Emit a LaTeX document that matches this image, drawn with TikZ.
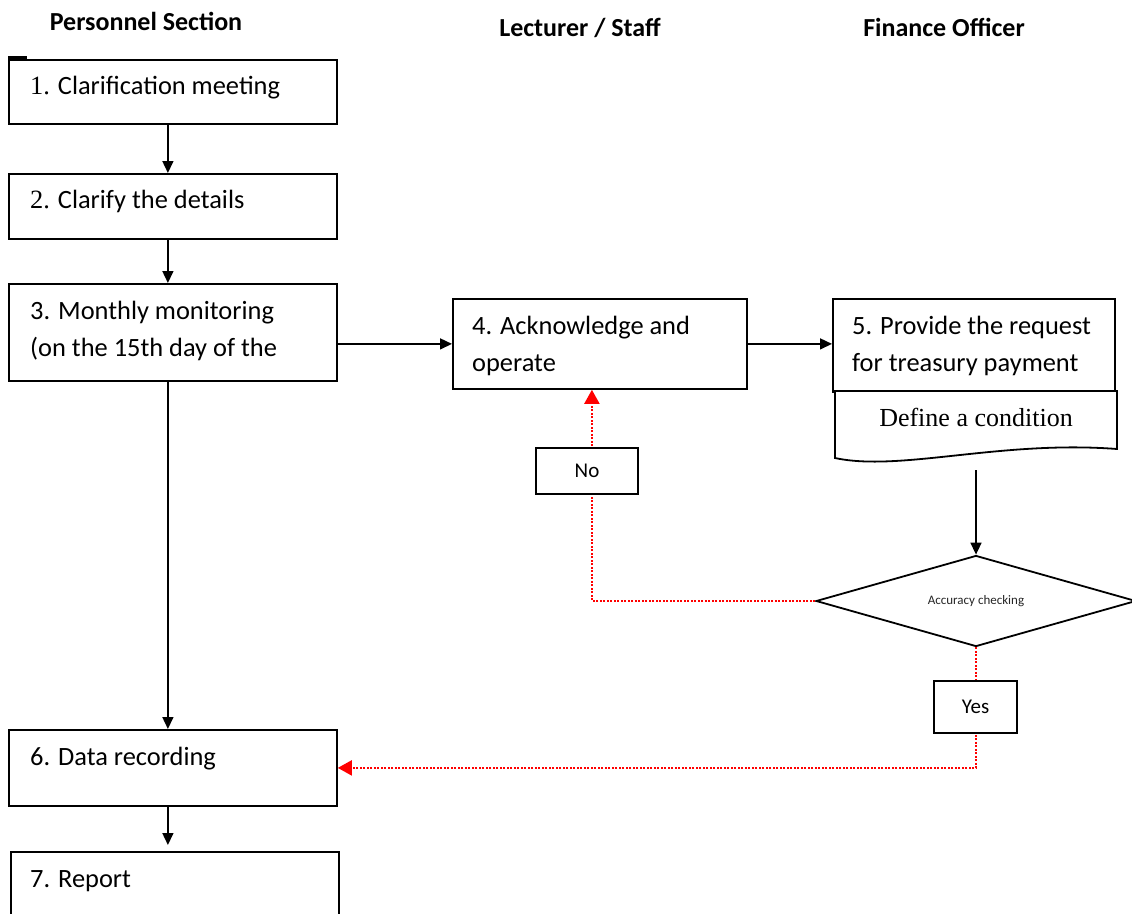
\documentclass[tikz,border=0pt]{standalone}
\usepackage{fontspec}
\setmainfont{Carlito}
\newfontfamily\serifnum{Liberation Serif}
\usetikzlibrary{shapes.geometric,arrows.meta,calc}
\begin{document}
\begin{tikzpicture}[x=1pt,y=-1pt,
  box/.style={draw, line width=1.8pt, fill=white, inner sep=0pt, anchor=north west},
  txt/.style={font=\fontsize{26.4}{37}\selectfont, anchor=base west, align=left, inner sep=0pt},
  hdr/.style={font=\fontsize{26}{30}\selectfont\bfseries, inner sep=0pt, anchor=base},
  arr/.style={line width=1.5pt, -{Triangle[length=12pt,width=11pt]}},
  rarr/.style={red, line width=2pt, dash pattern=on 2pt off 1.5pt, -{Triangle[length=14pt,width=15pt]}},
  tag/.style={draw, line width=1.8pt, fill=white, inner sep=0pt, font=\fontsize{21}{24}\selectfont},
]
\path[use as bounding box] (0,0) rectangle (1132,913);
\clip (0,0) rectangle (1132,913);

% headers
\node[hdr] (h1) at (146,30) {Personnel Section};
\node[hdr] (h2) at (580,36) {Lecturer / Staff};
\node[hdr] (h3) at (944,36) {Finance Officer};

% boxes
\node[box, minimum width=328pt, minimum height=64pt] (b1) at (8,59) {};
\node[box, minimum width=328pt, minimum height=65pt] (b2) at (8,173) {};
\node[box, minimum width=328pt, minimum height=97pt] (b3) at (8,283) {};
\node[box, minimum width=294pt, minimum height=90pt] (b4) at (452,298) {};
\node[box, minimum width=282pt, minimum height=93pt] (b5) at (832,298) {};
\node[box, minimum width=328pt, minimum height=76pt] (b6) at (8,729) {};
\node[box, minimum width=328pt, minimum height=100pt] (b7) at (10,851) {};

\draw[line width=2.2pt] ($(b1.north west)+(0,-1.6)$) -- ++(19,0);

\node[txt] (t1) at ($(b1.north west)+(22,35)$) {{\serifnum 1.} Clarification meeting};
\node[txt] (t2) at ($(b2.north west)+(22,35)$) {{\serifnum 2.} Clarify the details};
\node[txt] (t3) at ($(b3.north west)+(22,73)$) {3. Monthly monitoring\\(on the 15th day of the};
\node[txt] (t4) at ($(b4.north west)+(20,73)$) {4. Acknowledge and\\operate};
\node[txt] (t5) at ($(b5.north west)+(20,73)$) {5. Provide the request\\for treasury payment};
\node[txt] (t6) at ($(b6.north west)+(22,36)$) {6. Data recording};
\node[txt] (t7) at ($(b7.north west)+(20,36)$) {7. Report};

% document shape
\draw[line width=1.8pt, fill=white] (835,391) -- (1117,391) -- (1117,449)
  .. controls (1000,440) and (900,472) .. (835,458) -- cycle;
\node[font=\serifnum\fontsize{26}{30}\selectfont, anchor=base, inner sep=0pt] (doc) at (976,426) {Define a condition};
\coordinate (docb) at (976,470);

% decision
\node[diamond, draw, line width=1.8pt, fill=white, shape aspect=3.5, minimum width=320pt, minimum height=91pt, inner sep=0pt,
  font=\fontsize{13}{15}\selectfont, text=black!85] (dia) at (976,601) {Accuracy checking};

% connectors
\draw[arr] ([xshift=-5pt]b1.south) -- ([xshift=-5pt]b2.north);
\draw[arr] ([xshift=-5pt]b2.south) -- ([xshift=-5pt]b3.north);
\draw[arr] (b3.east |- b4.west) -- (b4.west);
\draw[arr] (b4.east) -- (b5.west |- b4.east);
\draw[arr] (docb) -- (dia.north);
\draw[arr] ([xshift=-5pt]b3.south) -- ([xshift=-5pt]b6.north);
\draw[arr, shorten >=6pt] ([xshift=-5pt]b6.south) -- ([xshift=-7pt]b7.north);

\draw[rarr] (dia.west) -| ([xshift=-8pt]b4.south);
\draw[rarr] (dia.south) |- (b6.east);

\node[tag, minimum width=102pt, minimum height=46pt] (no) at (587,471) {No};
\node[tag, minimum width=83pt, minimum height=52pt] (yes) at (975.5,707) {Yes};
\end{tikzpicture}
\end{document}
